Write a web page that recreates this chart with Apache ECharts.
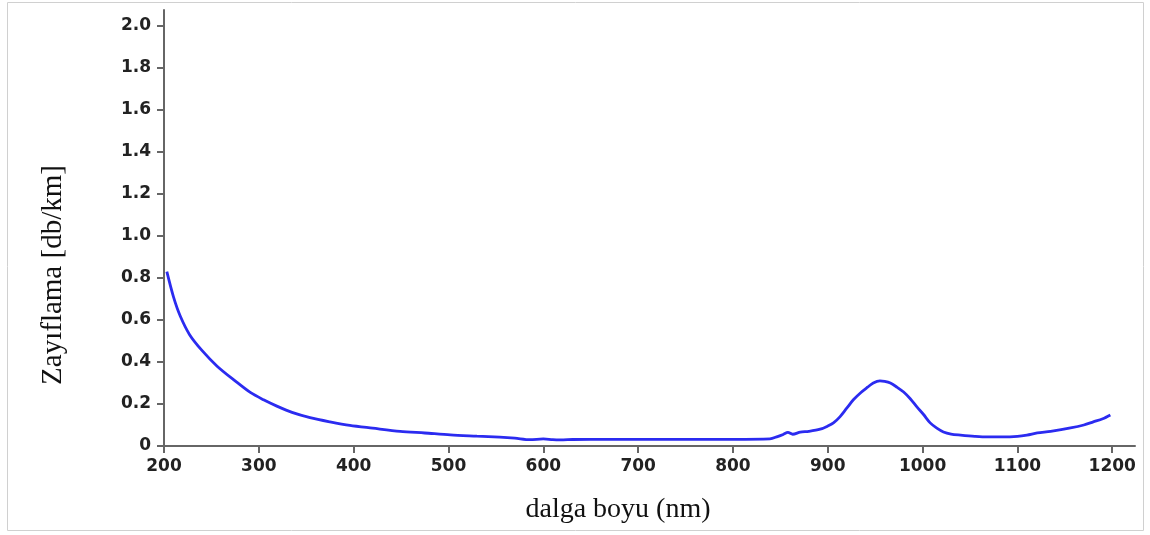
<!DOCTYPE html>
<html>
<head>
<meta charset="utf-8">
<script src="https://cdn.jsdelivr.net/npm/echarts@6/dist/echarts.min.js"></script>
<style>
  html, body { margin: 0; padding: 0; background: #fff; }
  #chart { width: 1150px; height: 535px; }
</style>
</head>
<body>
<div id="chart"></div>
<script>
// wavelength (nm) and attenuation (db/km)
const wavelength = [203, 210, 217, 227, 240, 256, 275, 291, 305, 319, 335, 354, 375, 396, 420, 449, 475, 502, 530, 554,
  570, 586, 600, 610, 618, 631, 650, 700, 750, 800, 839, 847, 853, 858, 863, 871, 880, 892, 900, 906, 913, 920, 927,
  935, 942, 948, 955, 960, 966, 973, 980, 987, 994, 1001, 1008, 1015, 1022, 1030, 1040, 1055, 1068, 1085, 1100, 1110,
  1121, 1135, 1156, 1170, 1180, 1190, 1198];
const attenuation = [0.83, 0.71, 0.62, 0.53, 0.455, 0.38, 0.31, 0.255, 0.22, 0.19, 0.16, 0.135, 0.115, 0.098, 0.085,
  0.07, 0.062, 0.053, 0.047, 0.042, 0.037, 0.03, 0.034, 0.03, 0.029, 0.031, 0.032, 0.032, 0.032, 0.032, 0.034, 0.045,
  0.055, 0.065, 0.056, 0.066, 0.07, 0.08, 0.095, 0.11, 0.14, 0.18, 0.22, 0.255, 0.28, 0.3, 0.31, 0.308, 0.3, 0.28,
  0.257, 0.225, 0.186, 0.15, 0.11, 0.085, 0.067, 0.057, 0.052, 0.046, 0.043, 0.043, 0.046, 0.052, 0.062, 0.07, 0.086,
  0.1, 0.115, 0.13, 0.148];

const xTicks = [200, 300, 400, 500, 600, 700, 800, 900, 1000, 1100, 1200];
const yTicks = [0, 0.2, 0.4, 0.6, 0.8, 1.0, 1.2, 1.4, 1.6, 1.8, 2.0];

const chart = echarts.init(document.getElementById("chart"));

const axisStyle = { color: "#666", width: 2 };
const labelStyle = {
  color: "#222",
  fontFamily: "DejaVu Sans, sans-serif",
  fontWeight: "bold",
};
const titleFont = "Liberation Serif, Times New Roman, serif";

chart.setOption({
  animation: false,
  graphic: [
    {
      type: "rect",
      shape: { x: 7.5, y: 2.5, width: 1136, height: 528 },
      style: { fill: "none", stroke: "#d0d0d0", lineWidth: 1 },
      silent: true,
    },
    {
      type: "text",
      x: 618,
      y: 510,
      style: {
        text: "dalga boyu (nm)",
        font: "28px " + titleFont,
        fill: "#111",
        align: "center",
        verticalAlign: "middle",
      },
    },
    {
      type: "text",
      x: 53,
      y: 275,
      rotation: Math.PI / 2,
      style: {
        text: "Zayıflama [db/km]",
        font: "29px " + titleFont,
        fill: "#111",
        align: "center",
        verticalAlign: "middle",
      },
    },
  ],
  grid: { left: 164, right: 15, top: 10, bottom: 89 },
  xAxis: {
    type: "value",
    min: 200,
    max: 1224,
    splitLine: { show: false },
    axisLine: { lineStyle: axisStyle },
    axisTick: { length: 7, lineStyle: axisStyle, customValues: xTicks },
    axisLabel: {
      ...labelStyle,
      fontSize: 17,
      margin: 12,
      customValues: xTicks,
      formatter: (v) => String(v),
    },
  },
  yAxis: {
    type: "value",
    min: 0,
    max: 2.076,
    splitLine: { show: false },
    axisLine: { show: true, lineStyle: axisStyle },
    axisTick: { show: true, length: 7, lineStyle: axisStyle, customValues: yTicks },
    axisLabel: {
      ...labelStyle,
      fontSize: 17,
      margin: 13,
      customValues: yTicks,
      formatter: (v) => (v === 0 ? "0" : v.toFixed(1)),
    },
  },
  series: [
    {
      type: "line",
      data: wavelength.map((w, i) => [w, attenuation[i]]),
      smooth: 0.3,
      showSymbol: false,
      lineStyle: { color: "#2b2bf0", width: 2.8 },
    },
  ],
});
</script>
</body>
</html>
